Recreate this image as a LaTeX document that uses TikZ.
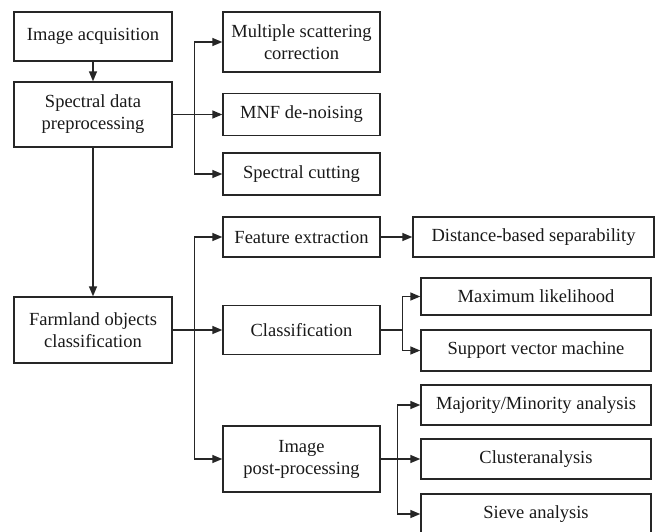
\documentclass[tikz,border=0pt]{standalone}
\usepackage{fontspec}
\setmainfont{Liberation Serif}
\usetikzlibrary{arrows.meta}
\begin{document}
\begin{tikzpicture}[x=1pt,y=-1pt,
  box/.style={draw=black!85, line width=1.4pt, rectangle, inner sep=0pt, align=center,
    text=black!90, font=\fontsize{18.5}{22}\selectfont},
  arr/.style={draw=black!85, line width=1.4pt, -{Triangle[length=10pt,width=8pt]}},
  ln/.style={draw=black!85, line width=1.4pt}]
\useasboundingbox (0,0) rectangle (656,531);
\clip (0,0) rectangle (656,531);
\fill[white] (0,0) rectangle (656,531);
\node[box, minimum width=158pt, minimum height=49pt] (ia) at (93,36.5) {Image acquisition};
\node[box, minimum width=158pt, minimum height=65pt] (sdp) at (93,114.5) {Spectral data\\preprocessing};
\node[box, minimum width=158pt, minimum height=66pt] (fo) at (93,330) {Farmland objects\\classification};
\node[box, minimum width=157pt, minimum height=60pt] (msc) at (301.5,42) {Multiple scattering\\correction};
\node[box, minimum width=157pt, minimum height=42pt] (mnf) at (301.5,114.5) {MNF de-noising};
\node[box, minimum width=157pt, minimum height=42pt] (sc) at (301.5,174) {Spectral cutting};
\node[box, minimum width=157pt, minimum height=40pt] (fe) at (301.5,237) {Feature extraction};
\node[box, minimum width=157pt, minimum height=49pt] (cls) at (301.5,330) {Classification};
\node[box, minimum width=157pt, minimum height=66pt] (ipp) at (301.5,459) {Image\\post-processing};
\node[box, minimum width=241pt, minimum height=40pt] (dbs) at (533.5,237) {Distance-based separability};
\node[box, minimum width=230pt, minimum height=37pt] (ml) at (536,296.5) {Maximum likelihood};
\node[box, minimum width=230pt, minimum height=41pt] (svm) at (536,350.5) {Support vector machine};
\node[box, minimum width=230pt, minimum height=40pt] (mm) at (536,405) {Majority/Minority analysis};
\node[box, minimum width=230pt, minimum height=40pt] (ca) at (536,459) {Clusteranalysis};
\node[box, minimum width=230pt, minimum height=40pt] (sa) at (536,514) {Sieve analysis};
% connectors
\draw[arr] (ia) -- (sdp);
\draw[arr] (sdp) -- (fo);
\draw[arr] (sdp.east) -- (mnf.west);
\draw[arr] (sdp.east) -- ++(22,0) |- (msc.west);
\draw[arr] (sdp.east) -- ++(22,0) |- (sc.west);
\draw[arr] (fo.east) -- (cls.west);
\draw[arr] (fo.east) -- ++(22,0) |- (fe.west);
\draw[arr] (fo.east) -- ++(22,0) |- (ipp.west);
\draw[arr] (fe) -- (dbs);
\draw[arr] (cls.east) -- ++(22,0) |- (ml.west);
\draw[arr] (cls.east) -- ++(22,0) |- (svm.west);
\draw[arr] (ipp.east) -- ++(17,0) |- (mm.west);
\draw[arr] (ipp.east) -- (ca.west);
\draw[arr] (ipp.east) -- ++(17,0) |- (sa.west);
\end{tikzpicture}
\end{document}
